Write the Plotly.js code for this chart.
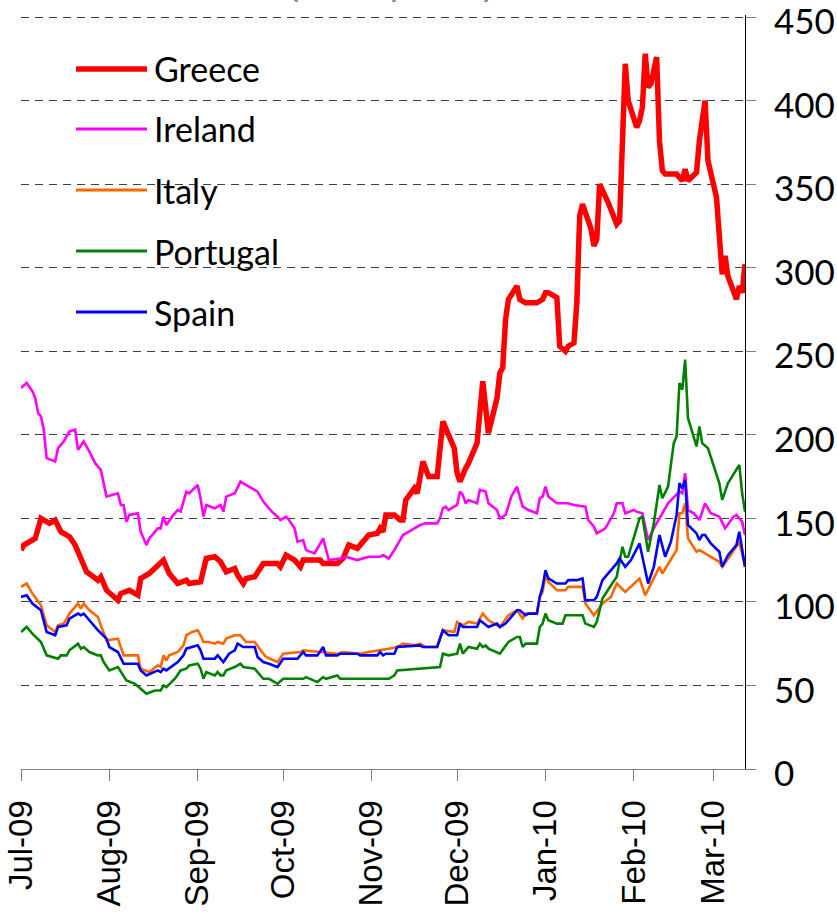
<!DOCTYPE html>
<html>
<head>
<meta charset="utf-8">
<script src="https://cdn.plot.ly/plotly-3.0.1.min.js"></script>
<style>html,body{margin:0;padding:0;background:#fff;}#chart{width:837px;height:916px;}</style>
</head>
<body>
<div id="chart"></div>
<script>
// ---- data (dates as MM-DD; Jul-Dec = 2009, Jan-Mar = 2010) ----
var seriesNames = ['Greece', 'Ireland', 'Italy', 'Portugal', 'Spain'];
var tickMonths = ['Jul-09','Aug-09','Sep-09','Oct-09','Nov-09','Dec-09','Jan-10','Feb-10','Mar-10'];

var greeceDates = ['07-01','07-02','07-06','07-08','07-11','07-13','07-15','07-18','07-20','07-22',
 '07-24','07-28','07-29','07-31','08-04','08-05','08-08','08-11','08-12','08-15',
 '08-20','08-22','08-25','08-28','08-29','09-02','09-03','09-04','09-07','09-09',
 '09-11','09-14','09-15','09-17','09-18','09-21','09-24','09-29','09-30','10-02',
 '10-05','10-07','10-08','10-14','10-15','10-20','10-22','10-24','10-27','10-31',
 '11-03','11-04','11-05','11-06','11-09','11-11','11-12','11-13','11-16','11-17',
 '11-19','11-21','11-24','11-25','11-26','11-28','11-30','12-01','12-02','12-04',
 '12-05','12-08','12-10','12-12','12-15','12-16','12-17','12-18','12-19','12-22',
 '12-23','12-25','12-29','12-31','01-01','01-02','01-05','01-06','01-08','01-09',
 '01-11','01-12','01-13','01-14','01-17','01-18','01-19','01-20','01-23','01-26',
 '01-27','01-29','01-30','02-02','02-03','02-04','02-05','02-06','02-07','02-09',
 '02-10','02-11','02-12','02-16','02-18','02-19','02-20','02-23','02-24','02-26',
 '02-27','03-02','03-04','03-05','03-06','03-09','03-10','03-11','03-12'];
var greeceValues = [131,134,138,150,147,149,142,139,134,125,
 118,113,115,107,101,105,107,104,114,117,
 125,117,111,113,111,112,118,126,127,124,
 118,120,116,111,114,115,123,123,121,128,
 125,121,125,125,123,123,126,134,132,140,
 141,144,142,152,152,149,149,161,168,165,
 184,175,175,190,208,200,192,177,172,180,
 183,195,232,201,222,237,240,269,281,289,
 281,279,279,281,285,285,282,253,250,253,
 255,279,331,338,323,313,317,350,339,326,
 328,422,400,384,388,396,428,408,410,426,
 376,358,356,356,352,359,352,357,376,400,
 364,342,296,307,295,281,289,285,302];

var irelandDates = ['07-01','07-03','07-05','07-06','07-07','07-08','07-09','07-10','07-13','07-14',
 '07-16','07-18','07-20','07-21','07-23','07-25','07-27','07-29','07-31','08-04',
 '08-05','08-06','08-07','08-08','08-11','08-12','08-14','08-15','08-18','08-19',
 '08-20','08-21','08-23','08-25','08-26','08-28','08-29','09-01','09-02','09-03',
 '09-04','09-07','09-09','09-10','09-11','09-14','09-16','09-18','09-19','09-22',
 '09-24','09-25','09-27','09-29','09-30','10-02','10-03','10-05','10-06','10-08',
 '10-09','10-12','10-14','10-15','10-17','10-21','10-23','10-27','10-31','11-04',
 '11-05','11-07','11-09','11-12','11-15','11-18','11-20','11-24','11-25','11-26',
 '11-27','11-28','12-01','12-02','12-03','12-04','12-05','12-08','12-09','12-11',
 '12-12','12-15','12-16','12-18','12-20','12-22','12-24','12-26','12-29','12-30',
 '12-31','01-01','01-02','01-05','01-09','01-11','01-15','01-16','01-18','01-19',
 '01-21','01-22','01-25','01-26','01-28','01-29','02-01','02-02','02-04','02-06',
 '02-08','02-10','02-13','02-17','02-18','02-19','02-20','02-22','02-24','02-26',
 '02-28','03-03','03-05','03-08','03-09','03-11','03-12'];
var irelandValues = [228,231,226,222,213,211,203,186,184,192,
 196,202,203,191,196,190,183,179,163,165,
 158,158,148,152,153,142,134,138,144,144,
 151,146,151,155,154,166,165,170,162,151,
 158,156,158,154,163,165,172,170,169,166,
 160,158,154,151,149,151,149,144,136,137,
 131,129,135,138,125,126,127,125,127,127,
 128,126,131,140,143,146,147,147,150,156,
 157,155,158,166,164,159,161,159,167,166,
 159,155,150,152,163,169,157,155,153,162,
 163,169,163,159,159,158,157,149,145,141,
 143,144,153,159,159,153,155,154,153,137,
 144,150,159,166,165,177,155,153,149,159,
 153,151,144,151,152,148,140];

var italyDates = ['07-01','07-03','07-05','07-07','07-08','07-10','07-13','07-14','07-16','07-18',
 '07-21','07-22','07-23','07-25','07-28','07-29','07-31','08-04','08-06','08-11',
 '08-12','08-15','08-18','08-19','08-20','08-21','08-22','08-25','08-27','08-28',
 '08-30','09-01','09-02','09-03','09-05','09-07','09-08','09-10','09-11','09-14',
 '09-16','09-18','09-21','09-24','09-25','09-29','10-01','10-07','10-08','10-14',
 '10-20','10-22','10-28','10-31','11-04','11-07','11-10','11-12','11-16','11-18',
 '11-20','11-24','11-26','11-30','12-01','12-03','12-05','12-08','12-10','12-12',
 '12-14','12-16','12-19','12-22','12-24','12-25','12-29','12-30','12-31','01-01',
 '01-02','01-05','01-08','01-09','01-14','01-15','01-18','01-21','01-24','01-26',
 '01-29','02-03','02-05','02-10','02-11','02-16','02-17','02-18','02-19','02-20',
 '02-23','02-24','02-27','03-03','03-04','03-07','03-10','03-12'];
var italyValues = [109,111,105,100,98,86,82,86,87,93,
 99,96,99,95,91,86,77,78,68,68,
 60,58,62,61,68,65,68,70,74,80,
 82,83,80,76,76,75,76,75,78,80,
 80,76,76,69,67,64,69,70,71,70,
 69,70,69,70,71,72,73,75,74,75,
 73,73,83,82,88,86,88,87,93,89,
 87,85,92,95,90,93,93,103,106,116,
 112,107,107,109,109,99,92,99,103,111,
 106,114,104,121,117,131,153,153,159,138,
 130,131,128,124,121,128,136,121];

var portugalDates = ['07-01','07-03','07-05','07-08','07-10','07-12','07-14','07-15','07-17','07-18',
 '07-21','07-22','07-23','07-25','07-28','07-29','07-30','08-01','08-04','08-07',
 '08-10','08-12','08-14','08-17','08-19','08-20','08-21','08-24','08-26','08-28',
 '08-29','09-01','09-02','09-03','09-04','09-07','09-08','09-09','09-10','09-11',
 '09-14','09-16','09-17','09-21','09-24','09-26','09-29','10-01','10-08','10-09',
 '10-13','10-15','10-16','10-20','10-21','11-07','11-09','11-10','11-18','11-25',
 '11-26','11-28','12-01','12-02','12-03','12-05','12-08','12-09','12-10','12-11',
 '12-12','12-15','12-16','12-19','12-22','12-23','12-24','12-25','12-29','12-30',
 '12-31','01-01','01-02','01-05','01-07','01-08','01-14','01-15','01-18','01-19',
 '01-21','01-24','01-26','01-28','01-29','01-30','02-01','02-03','02-04','02-06',
 '02-08','02-10','02-11','02-13','02-15','02-16','02-17','02-18','02-19','02-20',
 '02-23','02-24','02-25','02-27','03-03','03-04','03-06','03-10','03-11','03-12'];
var portugalValues = [82,85,81,76,68,67,66,68,68,71,
 75,72,73,70,68,68,64,59,61,53,
 51,48,45,47,47,50,49,54,59,60,
 62,63,60,54,58,56,58,56,56,59,
 61,63,61,60,54,54,51,54,54,55,
 52,55,54,56,54,54,56,59,60,61,
 69,68,69,75,69,73,72,75,73,74,
 72,70,69,76,79,79,73,75,75,85,
 87,93,89,87,87,92,92,87,85,88,
 102,110,115,133,127,127,139,150,151,130,
 147,170,162,169,195,199,231,227,245,210,
 193,205,195,192,171,161,171,182,165,154];

var spainDates = ['07-01','07-03','07-05','07-07','07-08','07-10','07-13','07-14','07-17','07-18',
 '07-21','07-22','07-23','07-25','07-28','07-31','08-01','08-04','08-06','08-11',
 '08-12','08-14','08-18','08-19','08-20','08-21','08-25','08-27','08-28','09-01',
 '09-02','09-03','09-07','09-08','09-10','09-12','09-14','09-15','09-17','09-21',
 '09-22','09-24','09-26','09-29','10-01','10-06','10-08','10-09','10-13','10-15',
 '10-16','10-20','10-21','10-27','10-28','11-03','11-04','11-05','11-06','11-09',
 '11-10','11-18','11-19','11-24','11-26','11-28','12-01','12-02','12-03','12-08',
 '12-09','12-12','12-15','12-16','12-18','12-20','12-22','12-23','12-25','12-26',
 '12-29','12-30','12-31','01-01','01-02','01-05','01-08','01-09','01-12','01-14',
 '01-15','01-18','01-19','01-21','01-22','01-24','01-26','01-27','01-29','01-31',
 '02-03','02-04','02-06','02-08','02-10','02-12','02-14','02-16','02-17','02-18',
 '02-19','02-20','02-23','02-24','02-25','02-26','02-28','03-03','03-04','03-06',
 '03-08','03-09','03-10','03-12'];
var spainValues = [103,104,99,96,95,82,80,85,86,90,
 93,92,93,89,83,78,73,70,63,63,
 59,56,59,58,60,59,64,68,72,74,
 71,66,66,68,64,69,71,75,73,73,
 67,64,63,61,66,66,70,68,68,73,
 68,68,69,69,68,68,70,68,69,69,
 73,74,73,73,83,80,80,87,85,85,
 89,85,87,85,87,91,95,95,92,93,
 93,103,109,119,114,111,111,113,113,114,
 101,101,103,113,115,119,123,126,121,125,
 135,127,111,121,140,127,136,152,171,168,
 173,146,141,137,140,140,135,130,121,128,
 132,134,142,121];

var yTickValues = [0,50,100,150,200,250,300,350,400,450];

// ---- styling ----
var colors = ['#ff0000', '#ff00ff', '#ff6600', '#008000', '#0000ff'];
var widths = [5.5, 2.6, 2.6, 2.6, 2.6];

function toISO(md) {
  var m = parseInt(md.slice(0, 2), 10);
  return (m >= 7 ? '2009-' : '2010-') + md;
}

var allDates = [greeceDates, irelandDates, italyDates, portugalDates, spainDates];
var allValues = [greeceValues, irelandValues, italyValues, portugalValues, spainValues];

var traces = seriesNames.map(function (name, i) {
  return {
    type: 'scatter', mode: 'lines', name: name,
    x: allDates[i].map(toISO), y: allValues[i],
    line: { color: colors[i], width: widths[i], shape: 'linear' },
    hoverinfo: 'skip', showlegend: false
  };
});

// plot area geometry in px (for the hand-made legend and title)
var W = 837, H = 916, L = 21, R = 92, T = 15, B = 147;
var pw = W - L - R, ph = H - T - B;
function px(x) { return (x - L) / pw; }
function py(y) { return (H - B - y) / ph; }

var legendRows = [69, 129, 190, 251, 312];
var shapes = [{
  type: 'rect', xref: 'paper', yref: 'paper', layer: 'between',
  x0: px(L), x1: px(340), y0: py(342), y1: py(34),
  fillcolor: '#ffffff', line: { width: 0 }
}];
var annotations = [];
seriesNames.forEach(function (name, i) {
  shapes.push({
    type: 'line', xref: 'paper', yref: 'paper',
    x0: px(76), x1: px(147), y0: py(legendRows[i]), y1: py(legendRows[i]),
    line: { color: colors[i], width: i === 0 ? 5.5 : 3 }
  });
  annotations.push({
    xref: 'paper', yref: 'paper', x: px(152), y: py(legendRows[i]),
    xanchor: 'left', yanchor: 'middle', showarrow: false, text: name,
    font: { family: 'Lato, Liberation Sans, sans-serif', size: 34, color: '#000000' }
  });
});
// chart title: only its lowest edge is visible at the top of the reference image
annotations.push({
  xref: 'paper', yref: 'paper', x: px(391), y: py(4.5),
  xanchor: 'center', yanchor: 'bottom', showarrow: false,
  text: '(basis points)',
  font: { family: 'Liberation Sans, Arial, sans-serif', size: 35, color: '#7c82aa' }
});

var monthNum = { Jan: '01', Feb: '02', Mar: '03', Jul: '07', Aug: '08', Sep: '09', Oct: '10', Nov: '11', Dec: '12' };
var tickDates = tickMonths.map(function (t) {
  return '20' + t.slice(4) + '-' + monthNum[t.slice(0, 3)] + '-01';
});

var layout = {
  width: W, height: H,
  margin: { l: L, r: R, t: T, b: B, pad: 0 },
  paper_bgcolor: '#ffffff', plot_bgcolor: '#ffffff',
  showlegend: false,
  font: { family: 'Liberation Sans, Arial, sans-serif', color: '#000000' },
  xaxis: {
    type: 'date', range: ['2009-07-01', '2010-03-12'],
    tickmode: 'array', tickvals: tickDates, ticktext: tickMonths,
    tickangle: -90, ticks: 'outside', ticklen: 11, tickcolor: '#808080', tickwidth: 1,
    showline: true, linecolor: '#808080', linewidth: 1,
    showgrid: false, zeroline: false,
    tickfont: { family: 'Liberation Sans, Arial, sans-serif', size: 33, color: '#000000' },
    ticklabelstandoff: 6
  },
  yaxis: {
    side: 'right', range: [0, 451.2],
    tickmode: 'array', tickvals: yTickValues,
    ticks: 'outside', ticklen: 10, tickcolor: '#808080', tickwidth: 1,
    showline: true, linecolor: '#000000', linewidth: 1,
    showgrid: true, gridcolor: '#404040', gridwidth: 1, griddash: '8px,6px',
    zeroline: false, ticklabeloverflow: 'allow',
    tickfont: { family: 'Lato, Liberation Sans, sans-serif', size: 35, color: '#000000' },
    ticklabelstandoff: 11, ticklabelshift: 5
  },
  shapes: shapes,
  annotations: annotations
};

Plotly.newPlot('chart', traces, layout, { displayModeBar: false, staticPlot: true });
</script>
</body>
</html>
